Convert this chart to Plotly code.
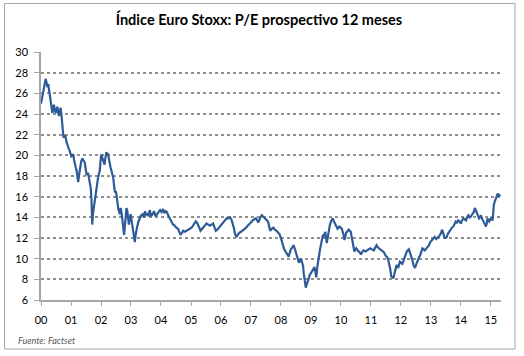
import pandas as pd
import plotly.graph_objects as go

# decimal years since 2000 and forward P/E readings
years = [
    0.00, 0.04, 0.08, 0.12, 0.155, 0.19, 0.21, 0.24, 0.27, 0.30, 0.32, 0.35, 0.38, 0.41, 0.43, 0.46,
    0.49, 0.52, 0.545, 0.57, 0.60, 0.63, 0.655, 0.68, 0.71, 0.75, 0.78, 0.82, 0.85, 0.88, 0.92, 0.96,
    1.01, 1.05, 1.08, 1.10, 1.125, 1.16, 1.19, 1.22, 1.24, 1.27, 1.30, 1.34, 1.38, 1.42, 1.46, 1.49,
    1.52, 1.57, 1.60, 1.63, 1.66, 1.68, 1.70, 1.71, 1.73, 1.77, 1.81, 1.85, 1.88, 1.90, 1.93, 1.96,
    1.98, 2.01, 2.04, 2.07, 2.10, 2.12, 2.15, 2.18, 2.21, 2.24, 2.27, 2.29, 2.32, 2.35, 2.38, 2.41,
    2.44, 2.47, 2.50, 2.52, 2.55, 2.58, 2.60, 2.63, 2.66, 2.69, 2.71, 2.74, 2.77, 2.80, 2.82, 2.85,
    2.88, 2.91, 2.93, 2.96, 2.99, 3.02, 3.04, 3.07, 3.10, 3.13, 3.15, 3.18, 3.20, 3.25, 3.30, 3.34,
    3.39, 3.43, 3.47, 3.50, 3.54, 3.58, 3.63, 3.67, 3.72, 3.77, 3.82, 3.86, 3.92, 3.97, 4.02, 4.07,
    4.12, 4.16, 4.20, 4.24, 4.30, 4.35, 4.40, 4.46, 4.51, 4.57, 4.61, 4.65, 4.70, 4.74, 4.80, 4.85,
    4.90, 4.96, 5.02, 5.07, 5.12, 5.16, 5.20, 5.24, 5.28, 5.32, 5.37, 5.41, 5.47, 5.52, 5.58, 5.63,
    5.69, 5.74, 5.79, 5.83, 5.88, 5.94, 6.01, 6.08, 6.14, 6.19, 6.25, 6.30, 6.35, 6.39, 6.43, 6.47,
    6.52, 6.56, 6.61, 6.67, 6.72, 6.78, 6.84, 6.90, 6.95, 7.00, 7.06, 7.12, 7.17, 7.21, 7.25, 7.30,
    7.36, 7.40, 7.44, 7.50, 7.54, 7.58, 7.61, 7.64, 7.70, 7.75, 7.80, 7.86, 7.91, 7.95, 8.00, 8.03,
    8.07, 8.11, 8.15, 8.18, 8.22, 8.26, 8.30, 8.33, 8.38, 8.42, 8.47, 8.51, 8.56, 8.60, 8.64, 8.67,
    8.71, 8.74, 8.76, 8.78, 8.81, 8.83, 8.86, 8.89, 8.93, 8.96, 9.00, 9.04, 9.08, 9.12, 9.15, 9.18,
    9.22, 9.26, 9.31, 9.34, 9.40, 9.43, 9.48, 9.53, 9.59, 9.63, 9.67, 9.73, 9.77, 9.81, 9.85, 9.89,
    9.95, 10.03, 10.09, 10.12, 10.18, 10.26, 10.33, 10.37, 10.40, 10.45, 10.51, 10.55, 10.59, 10.63, 10.67, 10.72,
    10.76, 10.82, 10.87, 10.93, 10.98, 11.04, 11.10, 11.15, 11.19, 11.23, 11.27, 11.33, 11.38, 11.44, 11.49, 11.53,
    11.57, 11.61, 11.64, 11.68, 11.72, 11.75, 11.80, 11.86, 11.91, 11.97, 12.01, 12.05, 12.09, 12.13, 12.17, 12.20,
    12.27, 12.31, 12.35, 12.39, 12.42, 12.47, 12.52, 12.56, 12.60, 12.64, 12.68, 12.72, 12.76, 12.80, 12.85, 12.89,
    12.94, 12.98, 13.05, 13.09, 13.13, 13.18, 13.22, 13.27, 13.31, 13.35, 13.38, 13.42, 13.46, 13.50, 13.53, 13.57,
    13.61, 13.66, 13.70, 13.75, 13.79, 13.83, 13.87, 13.91, 13.96, 14.00, 14.04, 14.09, 14.13, 14.17, 14.21, 14.25,
    14.30, 14.34, 14.38, 14.43, 14.47, 14.50, 14.54, 14.57, 14.61, 14.64, 14.67, 14.72, 14.76, 14.80, 14.84, 14.87,
    14.89, 14.92, 14.95, 14.98, 15.00, 15.03, 15.06, 15.08, 15.10, 15.14, 15.18, 15.23, 15.28, 15.32,
]
pe = [
    25.0, 25.6, 26.4, 26.9, 27.4, 27.0, 26.6, 26.9, 26.2, 25.7, 25.2, 24.8, 24.1, 24.6, 24.9, 24.4,
    24.1, 24.5, 24.7, 24.2, 23.8, 24.3, 24.6, 24.0, 23.0, 21.7, 21.9, 21.8, 21.3, 20.9, 20.7, 20.4,
    19.9, 20.0, 20.1, 19.6, 19.1, 18.8, 18.5, 18.0, 17.4, 18.1, 18.8, 19.4, 19.7, 19.4, 19.3, 18.7,
    18.1, 18.3, 17.8, 17.3, 16.8, 15.9, 14.5, 13.3, 14.3, 15.2, 15.8, 16.5, 17.2, 17.8, 18.2, 18.5,
    19.3, 20.1, 19.8, 19.6, 19.3, 19.1, 19.8, 20.3, 20.1, 20.1, 19.6, 19.1, 18.8, 18.5, 18.2, 17.8,
    17.0, 16.4, 16.5, 16.0, 15.2, 14.8, 14.6, 14.3, 14.9, 14.4, 13.9, 13.1, 12.3, 13.2, 14.3, 14.9,
    14.6, 13.8, 13.3, 13.9, 14.3, 13.7, 13.3, 12.9, 12.4, 11.6, 12.2, 12.8, 13.0, 13.6, 13.9, 14.2,
    14.3, 14.0, 14.6, 14.2, 14.4, 14.1, 14.7, 14.1, 14.3, 14.6, 14.1, 14.3, 14.5, 14.7, 14.5, 14.8,
    14.4, 14.6, 14.5, 14.2, 13.8, 13.5, 13.3, 13.2, 13.0, 12.9, 12.6, 12.3, 12.5, 12.7, 12.6, 12.7,
    12.8, 12.9, 13.0, 13.2, 13.4, 13.6, 13.5, 13.3, 13.0, 12.7, 12.9, 13.0, 13.2, 13.4, 13.3, 13.2,
    13.3, 13.4, 13.0, 12.7, 12.8, 13.0, 13.2, 13.5, 13.7, 13.9, 13.9, 14.0, 13.8, 13.5, 13.0, 12.4,
    12.1, 12.3, 12.5, 12.6, 12.7, 12.9, 13.0, 13.2, 13.4, 13.5, 13.7, 13.8, 13.9, 13.7, 13.5, 13.9,
    14.2, 14.1, 14.0, 13.8, 13.7, 13.5, 13.0, 12.7, 12.9, 13.0, 12.8, 12.7, 12.5, 12.4, 12.0, 11.7,
    11.2, 10.9, 10.7, 10.6, 10.4, 10.2, 10.6, 10.9, 11.1, 11.3, 10.9, 10.5, 10.0, 9.6, 9.8, 10.0,
    9.6, 9.3, 8.6, 8.0, 7.5, 7.2, 7.5, 7.7, 8.1, 8.4, 8.6, 8.8, 9.0, 9.2, 8.7, 8.2,
    9.3, 10.3, 11.0, 11.4, 12.3, 12.2, 12.6, 11.5, 12.8, 13.2, 13.6, 13.9, 13.6, 13.3, 13.0, 12.9,
    13.1, 12.9, 12.3, 11.8, 12.5, 12.8, 12.6, 11.9, 11.2, 10.7, 11.0, 10.8, 10.7, 10.6, 10.4, 10.7,
    10.8, 10.7, 10.8, 10.9, 11.0, 10.9, 10.8, 11.1, 11.3, 11.1, 11.0, 10.9, 10.8, 10.6, 10.3, 10.2,
    10.0, 9.6, 9.1, 8.3, 8.2, 8.1, 8.7, 9.4, 9.1, 9.7, 9.6, 9.5, 9.8, 10.2, 10.5, 10.7,
    10.9, 10.6, 10.2, 9.8, 9.4, 9.1, 9.5, 9.9, 10.1, 10.3, 10.7, 11.0, 10.9, 10.8, 11.0, 11.1,
    11.3, 11.6, 11.8, 12.0, 12.1, 11.9, 12.0, 12.2, 12.3, 12.6, 12.8, 12.4, 12.0, 12.0, 12.1, 12.4,
    12.6, 12.9, 13.0, 13.1, 13.3, 13.6, 13.5, 13.7, 13.6, 13.4, 13.7, 13.9, 13.8, 13.7, 14.0, 14.2,
    14.0, 14.1, 14.3, 14.5, 14.9, 14.7, 14.4, 14.1, 13.9, 14.0, 14.2, 13.8, 13.6, 13.4, 13.1, 13.5,
    13.9, 13.7, 13.6, 13.8, 13.9, 13.8, 13.7, 14.4, 15.2, 15.6, 16.0, 16.3, 16.1, 16.2,
]

title_text = "Índice Euro Stoxx: P/E prospectivo 12 meses"
source_text = "Fuente: Factset"
y_ticks = list(range(6, 31, 2))
x_tick_years = list(range(2000, 2016))

start = pd.Timestamp("2000-01-01")
dates = [start + pd.to_timedelta(y * 365.25, unit="D") for y in years]
x_ticks = [pd.Timestamp(f"{yr}-01-01") for yr in x_tick_years]
x_labels = [f"{yr % 100:02d}" for yr in x_tick_years]

fig = go.Figure()
fig.add_trace(go.Scatter(
    x=dates, y=pe, mode="lines",
    line=dict(color="#2e5b97", width=2.2),
    hoverinfo="skip",
))

W, H = 524, 356
ml, mr, mt, mb = 41, 23, 52, 56
pw = W - ml - mr
ph = H - mt - mb

fig.update_layout(
    width=W, height=H,
    margin=dict(l=ml, r=mr, t=mt, b=mb),
    paper_bgcolor="white", plot_bgcolor="white",
    showlegend=False,
    font=dict(family="Lato, Carlito, Arial", size=11, color="#000000"),
    title=dict(text="<b>" + title_text + "</b>", x=259 / W, xanchor="center",
               y=1 - 20 / H, yanchor="middle",
               font=dict(size=14.5, color="#000000", family="Lato, Arial")),
    xaxis=dict(
        type="date",
        range=[start, start + pd.to_timedelta(15.34 * 365.25, unit="D")],
        tickvals=x_ticks, ticktext=x_labels,
        ticks="outside", ticklen=4, tickcolor="#a6a6a6", tickwidth=1,
        showline=True, linecolor="#a6a6a6", linewidth=1.5,
        showgrid=False, zeroline=False,
        tickfont=dict(size=11),
        ticklabelstandoff=5,
    ),
    yaxis=dict(
        range=[6, 30], tickvals=y_ticks,
        ticks="outside", ticklen=5, tickcolor="#a6a6a6", tickwidth=1,
        showline=True, linecolor="#a6a6a6", linewidth=1.5,
        showgrid=True, gridcolor="#8f8f8f", gridwidth=2, griddash="dot",
        zeroline=False,
        tickfont=dict(size=11),
        ticklabelstandoff=4,
    ),
    shapes=[dict(
        type="rect", xref="paper", yref="paper",
        x0=(4.5 - ml) / pw, x1=(515 - ml) / pw,
        y0=(H - mb - 349) / ph, y1=(H - mb - 3.5) / ph,
        line=dict(color="#a6a6a6", width=1), fillcolor="rgba(0,0,0,0)", layer="below",
    )],
    annotations=[dict(
        text="<i>" + source_text + "</i>", xref="paper", yref="paper",
        x=(16 - ml) / pw, y=(H - mb - 340) / ph, xanchor="left", yanchor="middle",
        showarrow=False, font=dict(size=9, color="#595959", family="Lato, Arial"),
    )],
)

fig.write_html("out.html", config={"displayModeBar": False},
               post_script="document.body.style.margin='0px';")
